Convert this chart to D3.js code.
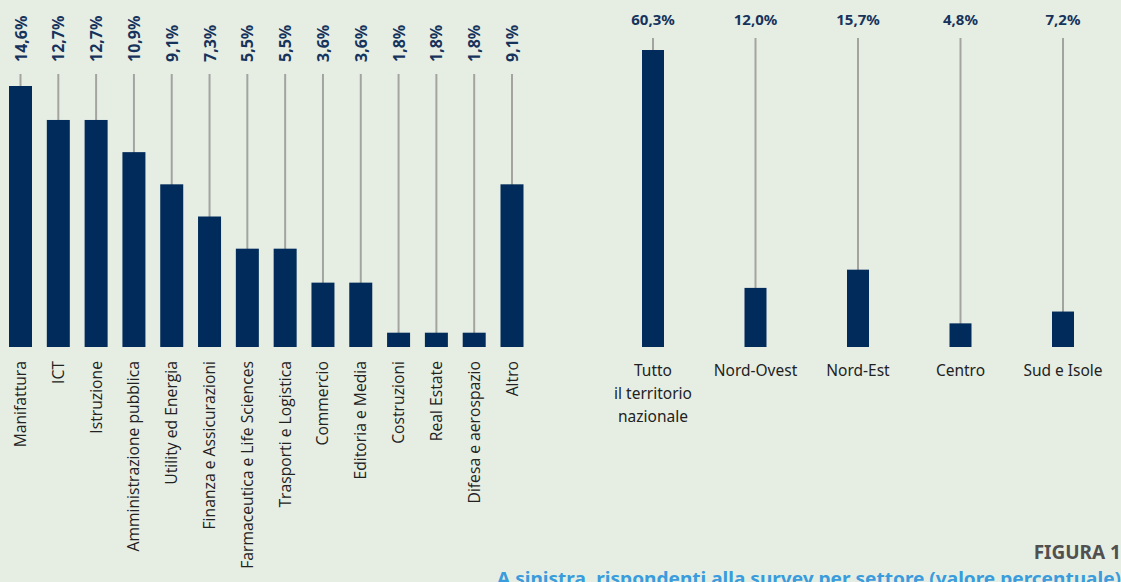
<!DOCTYPE html>
<html>
<head>
<meta charset="utf-8">
<title>Figura 1</title>
<script src="https://cdnjs.cloudflare.com/ajax/libs/d3/7.8.5/d3.min.js"></script>
<style>
body { margin: 0; background: #e6eee4; }
svg { display: block; }
.stem { stroke: #a3a4a0; stroke-width: 2; }
.bar { fill: #002b5a; }
.val { fill: #16335c; font-family: "Noto Sans", sans-serif; font-weight: bold; font-size: 16px; }
.cat { fill: #222; font-family: "Open Sans", sans-serif; font-size: 15.7px; }
.reg { fill: #222; font-family: "Noto Sans", sans-serif; font-size: 15.5px; }
</style>
</head>
<body>
<svg id="vis" width="1121" height="582"></svg>
<script>
// left chart: sectors
var sectors = ["Manifattura", "ICT", "Istruzione", "Amministrazione pubblica", "Utility ed Energia",
  "Finanza e Assicurazioni", "Farmaceutica e Life Sciences", "Trasporti e Logistica", "Commercio",
  "Editoria e Media", "Costruzioni", "Real Estate", "Difesa e aerospazio", "Altro"];
var sectorLabels = ["14,6%", "12,7%", "12,7%", "10,9%", "9,1%", "7,3%", "5,5%", "5,5%", "3,6%", "3,6%", "1,8%", "1,8%", "1,8%", "9,1%"];
// bar heights as drawn in the picture (the 1,8% bars are drawn shorter)
var sectorValues = [14.6, 12.7, 12.7, 10.9, 9.1, 7.3, 5.5, 5.5, 3.6, 3.6, 0.8, 0.8, 0.8, 9.1];

// right chart: areas
var regions = [["Tutto", "il territorio", "nazionale"], ["Nord-Ovest"], ["Nord-Est"], ["Centro"], ["Sud e Isole"]];
var regionLabels = ["60,3%", "12,0%", "15,7%", "4,8%", "7,2%"];
var regionValues = [60.3, 12.0, 15.7, 4.8, 7.2];

var svg = d3.select("#vis");
var base = 347;

// ---- left
var xL = d3.scalePoint().domain(sectors).range([20.5, 512]);
var yL = d3.scaleLinear().domain([0, 14.6]).range([base, 86]);
var bwL = 23;
var gL = svg.append("g");

gL.selectAll(".stem").data(sectors).enter().append("line")
  .attr("class", "stem")
  .attr("x1", d => xL(d)).attr("x2", d => xL(d))
  .attr("y1", 74).attr("y2", base - 2);

gL.selectAll(".bar").data(sectorValues).enter().append("rect")
  .attr("class", "bar")
  .attr("x", (d, i) => xL(sectors[i]) - bwL / 2)
  .attr("width", bwL)
  .attr("y", d => yL(d))
  .attr("height", d => base - yL(d));

gL.selectAll(".val").data(sectorLabels).enter().append("text")
  .attr("class", "val")
  .attr("transform", (d, i) => `translate(${xL(sectors[i]) + 6},62) rotate(-90)`)
  .text(d => d);

gL.selectAll(".cat").data(sectors).enter().append("text")
  .attr("class", "cat")
  .attr("text-anchor", "end")
  .attr("transform", d => `translate(${xL(d) + 5.5},361) rotate(-90)`)
  .text(d => d);

// ---- right
var xR = d3.scalePoint().domain(d3.range(regions.length)).range([653, 1063]);
var yR = d3.scaleLinear().domain([0, 60.3]).range([base, 50]);
var bwR = 22;
var gR = svg.append("g");

gR.selectAll(".stem").data(regionValues).enter().append("line")
  .attr("class", "stem")
  .attr("x1", (d, i) => xR(i)).attr("x2", (d, i) => xR(i))
  .attr("y1", 38).attr("y2", base - 2);

gR.selectAll(".bar").data(regionValues).enter().append("rect")
  .attr("class", "bar")
  .attr("x", (d, i) => xR(i) - bwR / 2)
  .attr("width", bwR)
  .attr("y", d => yR(d))
  .attr("height", d => base - yR(d));

gR.selectAll(".val").data(regionLabels).enter().append("text")
  .attr("class", "val")
  .attr("text-anchor", "middle")
  .attr("x", (d, i) => xR(i))
  .attr("y", 25)
  .style("font-size", "15px")
  .text(d => d);

gR.selectAll(".reg").data(regions).enter().append("text")
  .attr("class", "reg")
  .attr("text-anchor", "middle")
  .attr("x", (d, i) => xR(i))
  .attr("y", 376)
  .selectAll("tspan").data(d => d).enter().append("tspan")
    .attr("x", function () { return d3.select(this.parentNode).attr("x"); })
    .attr("dy", (d, i) => i ? 23 : 0)
    .text(d => d);

// ---- caption
svg.append("text")
  .attr("x", 1121).attr("y", 559)
  .attr("text-anchor", "end")
  .style("font-family", "'Noto Sans', sans-serif")
  .style("font-weight", "bold")
  .style("font-size", "19px")
  .style("fill", "#505050")
  .text("FIGURA 1");

svg.append("text")
  .attr("x", 1121).attr("y", 585)
  .attr("text-anchor", "end")
  .attr("textLength", 624)
  .attr("lengthAdjust", "spacingAndGlyphs")
  .style("font-family", "'Noto Sans', sans-serif")
  .style("font-weight", "bold")
  .style("font-size", "18px")
  .style("fill", "#3a9cdc")
  .text("A sinistra, rispondenti alla survey per settore (valore percentuale)");
</script>
</body>
</html>
